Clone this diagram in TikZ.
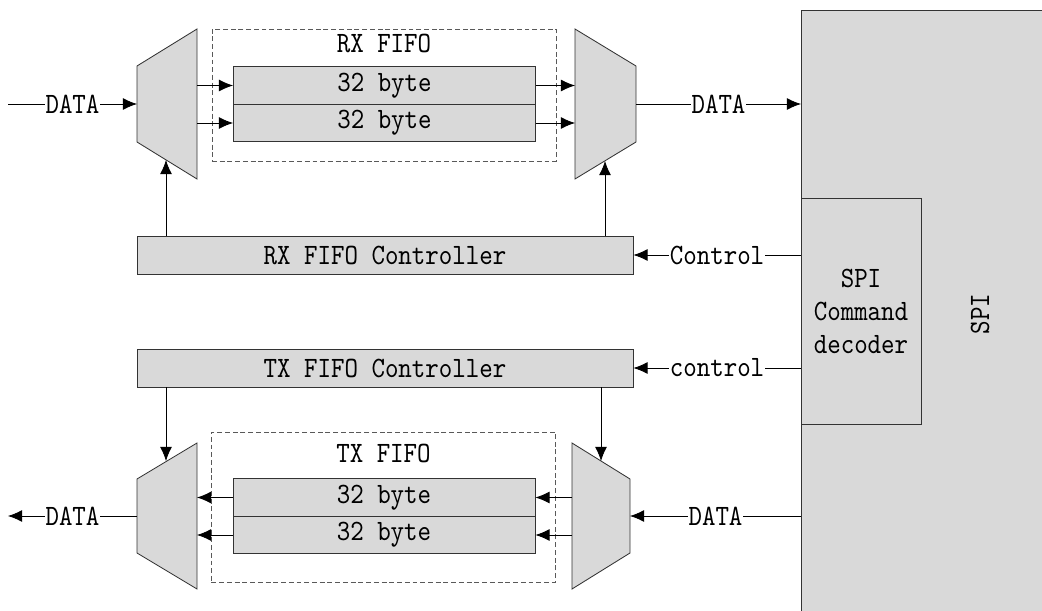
\documentclass[tikz,border=0pt]{standalone}
\usepackage{fontspec}
\newfontfamily\diagfont{lmmono10-regular.otf}[FakeStretch=0.87]
\usetikzlibrary{arrows.meta}
\definecolor{boxgray}{RGB}{217,217,217}
\begin{document}
\begin{tikzpicture}[x=0.025cm,y=-0.025cm,>={Latex[length=10pt,width=8.5pt]},line width=.6pt,
  font=\diagfont\fontsize{21}{23.5}\selectfont,
  blk/.style={draw=black!80,fill=boxgray,inner sep=0pt},
  fifo/.style={draw=black!65,dash pattern=on 3.5pt off 2pt,minimum width=8.6cm,minimum height=3.3cm},
  cell/.style={blk,minimum width=7.55cm,minimum height=.9375cm},
  ctl/.style={blk,minimum width=12.4cm,minimum height=.95cm},
  mux/.style={draw=black!80,fill=boxgray},
  lbl/.style={fill=white,inner sep=.5pt}]
\useasboundingbox (0,0) rectangle (1042,611);
\node[blk,anchor=north west,minimum width=6.5cm,minimum height=15.5cm] (spi) at (801,10) {};
\node[rotate=90] at (980,314) {SPI};
\node[blk,align=center,minimum width=3cm,minimum height=5.65cm] (dec) at (861,311) {SPI\\Command\\decoder};
\node[fifo] (rxfifo) at (384,95) {};
\node[anchor=north] at (rxfifo.north) {RX FIFO};
\node[cell] (rx1) at (384.5,85.5) {32 byte};
\node[cell] (rx2) at (384.5,123) {32 byte};
\filldraw[mux] (137,66)--(197,29)--(197,179)--(137,142)--cycle;
\coordinate (rxin) at (137,104);
\coordinate (rxinr) at (197,104);
\coordinate (rxinc) at (166,160);
\coordinate (din) at (8,104);
\filldraw[mux] (575,29)--(636,66)--(636,142)--(575,179)--cycle;
\coordinate (rxoutl) at (575,104);
\coordinate (rxout) at (636,104);
\coordinate (rxoutc) at (605,161);
\draw[->] (din) -- node[lbl]{DATA} (rxin);
\draw[->] (rx1.west -| rxinr) -- (rx1.west);
\draw[->] (rx2.west -| rxinr) -- (rx2.west);
\draw[->] (rx1.east) -- (rx1.east -| rxoutl);
\draw[->] (rx2.east) -- (rx2.east -| rxoutl);
\draw[->] (rxout) -- node[lbl]{DATA} (rxout -| spi.west);
\node[ctl] (rxctl) at (385,255) {RX FIFO Controller};
\draw[->] (rxctl.north -| rxinc) -- (rxinc);
\draw[->] (rxctl.north -| rxoutc) -- (rxoutc);
\draw[->] (dec.west |- rxctl.east) -- node[lbl]{Control} (rxctl.east);
\node[ctl] (txctl) at (385,368) {TX FIFO Controller};
\draw[->] (dec.west |- txctl.east) -- node[lbl]{control} (txctl.east);
\node[fifo,minimum height=3.75cm] (txfifo) at (383.5,507) {};
\node[anchor=north,yshift=-5pt] at (txfifo.north) {TX FIFO};
\node[cell] (tx1) at (384,497.5) {32 byte};
\node[cell] (tx2) at (384,535) {32 byte};
\filldraw[mux] (137,479)--(197,443)--(197,589)--(137,553)--cycle;
\coordinate (txout) at (137,516);
\coordinate (txoutr) at (197,516);
\coordinate (txoutc) at (166,461);
\coordinate (dout) at (8,516);
\filldraw[mux] (572,443)--(630,479)--(630,553)--(572,589)--cycle;
\coordinate (txinl) at (572,516);
\coordinate (txin) at (630,516);
\coordinate (txinc) at (601,461);
\draw[->] (tx1.west) -- (tx1.west -| txoutr);
\draw[->] (tx2.west) -- (tx2.west -| txoutr);
\draw[->] (txinl |- tx1.east) -- (tx1.east);
\draw[->] (txinl |- tx2.east) -- (tx2.east);
\draw[->] (txout) -- node[lbl]{DATA} (dout);
\draw[->] (spi.west |- txin) -- node[lbl]{DATA} (txin);
\draw[->] (txctl.south -| txoutc) -- (txoutc);
\draw[->] (txctl.south -| txinc) -- (txinc);
\end{tikzpicture}
\end{document}
